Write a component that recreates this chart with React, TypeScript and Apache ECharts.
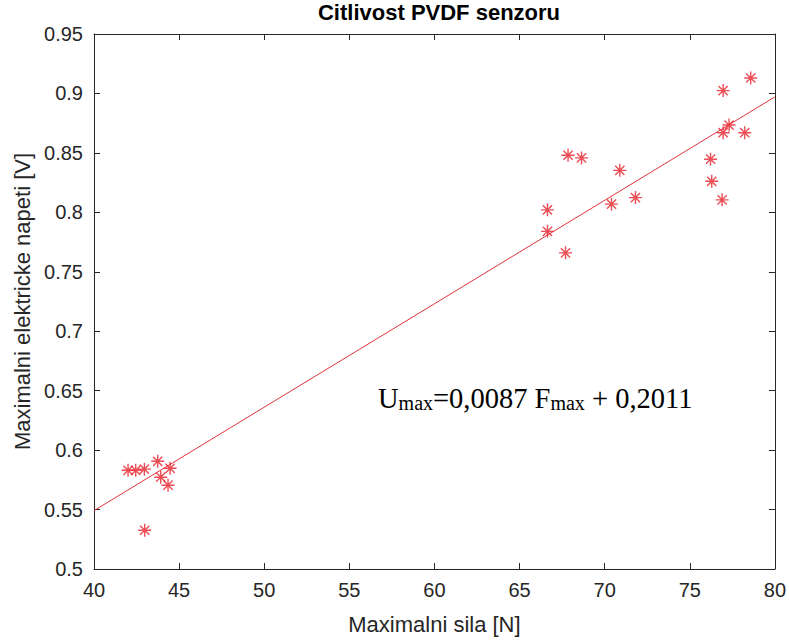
import React, { useEffect, useRef } from "react";
import * as echarts from "echarts";

const forceN: number[] = [
  42.0, 42.45, 42.96, 43.74, 44.47, 43.92, 44.35, 42.98,
  67.85, 68.64, 70.89, 71.81, 70.4, 66.64, 66.64, 67.7,
  78.58, 76.96, 77.31, 76.96, 78.23, 76.22, 76.29, 76.9,
];
const voltageV: number[] = [
  0.583, 0.583, 0.584, 0.5906, 0.5847, 0.5772, 0.5705, 0.5326,
  0.848, 0.8458, 0.8353, 0.8124, 0.8069, 0.8021, 0.784, 0.7659,
  0.913, 0.9024, 0.8734, 0.867, 0.867, 0.8447, 0.8261, 0.8105,
];
const fitSlope = 0.0087;
const fitIntercept = 0.2011;
const fitRange: number[] = [40, 80];

const titleText = "Citlivost PVDF senzoru";
const xName = "Maximalni sila [N]";
const yName = "Maximalni elektricke napeti [V]";

const axisColor = "#262626";
const red = "#e8202a";
const font = "'Liberation Sans', Arial, Helvetica, sans-serif";
const serif = "'Liberation Serif', 'Times New Roman', serif";

export default function App() {
  const ref = useRef<HTMLDivElement>(null);
  useEffect(() => {
    if (!ref.current) return;
    const chart = echarts.init(ref.current, undefined, { renderer: "svg" });
    const points = forceN.map((f, i) => [f, voltageV[i]]);
    const fitLine = fitRange.map((f) => [f, fitSlope * f + fitIntercept]);
    const commonLine = { show: true, lineStyle: { color: axisColor, width: 1 } };
    chart.setOption({
      animation: false,
      backgroundColor: "#ffffff",
      title: {
        text: titleText,
        left: 434,
        top: -4,
        textAlign: "center",
        textStyle: { fontSize: 22, fontWeight: "bold", color: "#000", fontFamily: font },
      },
      grid: { left: 94, right: 14, top: 34, bottom: 68 },
      xAxis: [
        {
          type: "value",
          min: 40,
          max: 80,
          interval: 5,
          name: xName,
          nameLocation: "middle",
          nameGap: 44,
          nameTextStyle: { fontSize: 22, color: axisColor, fontFamily: font },
          axisLine: { ...commonLine, onZero: false },
          axisTick: { show: true, inside: true, length: 6, lineStyle: { color: axisColor } },
          axisLabel: { fontSize: 20, color: axisColor, margin: 11, fontFamily: font },
          splitLine: { show: false },
        },
        {
          type: "value",
          position: "top",
          min: 40,
          max: 80,
          interval: 5,
          axisLine: { ...commonLine, onZero: false },
          axisTick: { show: true, inside: true, length: 6, lineStyle: { color: axisColor } },
          axisLabel: { show: false },
          splitLine: { show: false },
        },
      ],
      yAxis: [
        {
          type: "value",
          min: 0.5,
          max: 0.95,
          interval: 0.05,
          name: yName,
          nameLocation: "middle",
          nameGap: 60,
          nameTextStyle: { fontSize: 22, color: axisColor, fontFamily: font },
          axisLine: { ...commonLine, onZero: false },
          axisTick: { show: true, inside: true, length: 6, lineStyle: { color: axisColor } },
          axisLabel: { fontSize: 20, color: axisColor, margin: 11, fontFamily: font },
          splitLine: { show: false },
        },
        {
          type: "value",
          position: "right",
          min: 0.5,
          max: 0.95,
          interval: 0.05,
          axisLine: { ...commonLine, onZero: false },
          axisTick: { show: true, inside: true, length: 6, lineStyle: { color: axisColor } },
          axisLabel: { show: false },
          splitLine: { show: false },
        },
      ],
      series: [
        {
          type: "line",
          data: fitLine,
          showSymbol: false,
          symbol: "none",
          lineStyle: { color: "#e0343c", width: 1 },
          silent: true,
          z: 2,
        },
        {
          type: "scatter",
          data: points,
          symbol: "path://M5,0L5,10M0,5L10,5M1.46,1.46L8.54,8.54M1.46,8.54L8.54,1.46",
          symbolSize: 13,
          itemStyle: { color: "transparent", borderColor: red, borderWidth: 1.4 },
          z: 3,
        },
      ],
      graphic: [
        {
          type: "text",
          left: 378,
          top: 384,
          z: 10,
          style: {
            text: "{b|U}{s|max}{b|=0,0087 F}{s|max}{b| + 0,2011}",
            fill: "#000",
            rich: {
              b: { fontSize: 28.5, fontFamily: serif, fill: "#000", verticalAlign: "bottom" },
              s: { fontSize: 20, fontFamily: serif, fill: "#000", verticalAlign: "bottom" },
            },
          },
        },
      ],
    });
    return () => chart.dispose();
  }, []);
  return (
    <div
      ref={ref}
      style={{ position: "absolute", left: 0, top: 0, width: 789, height: 640, background: "#fff" }}
    />
  );
}
